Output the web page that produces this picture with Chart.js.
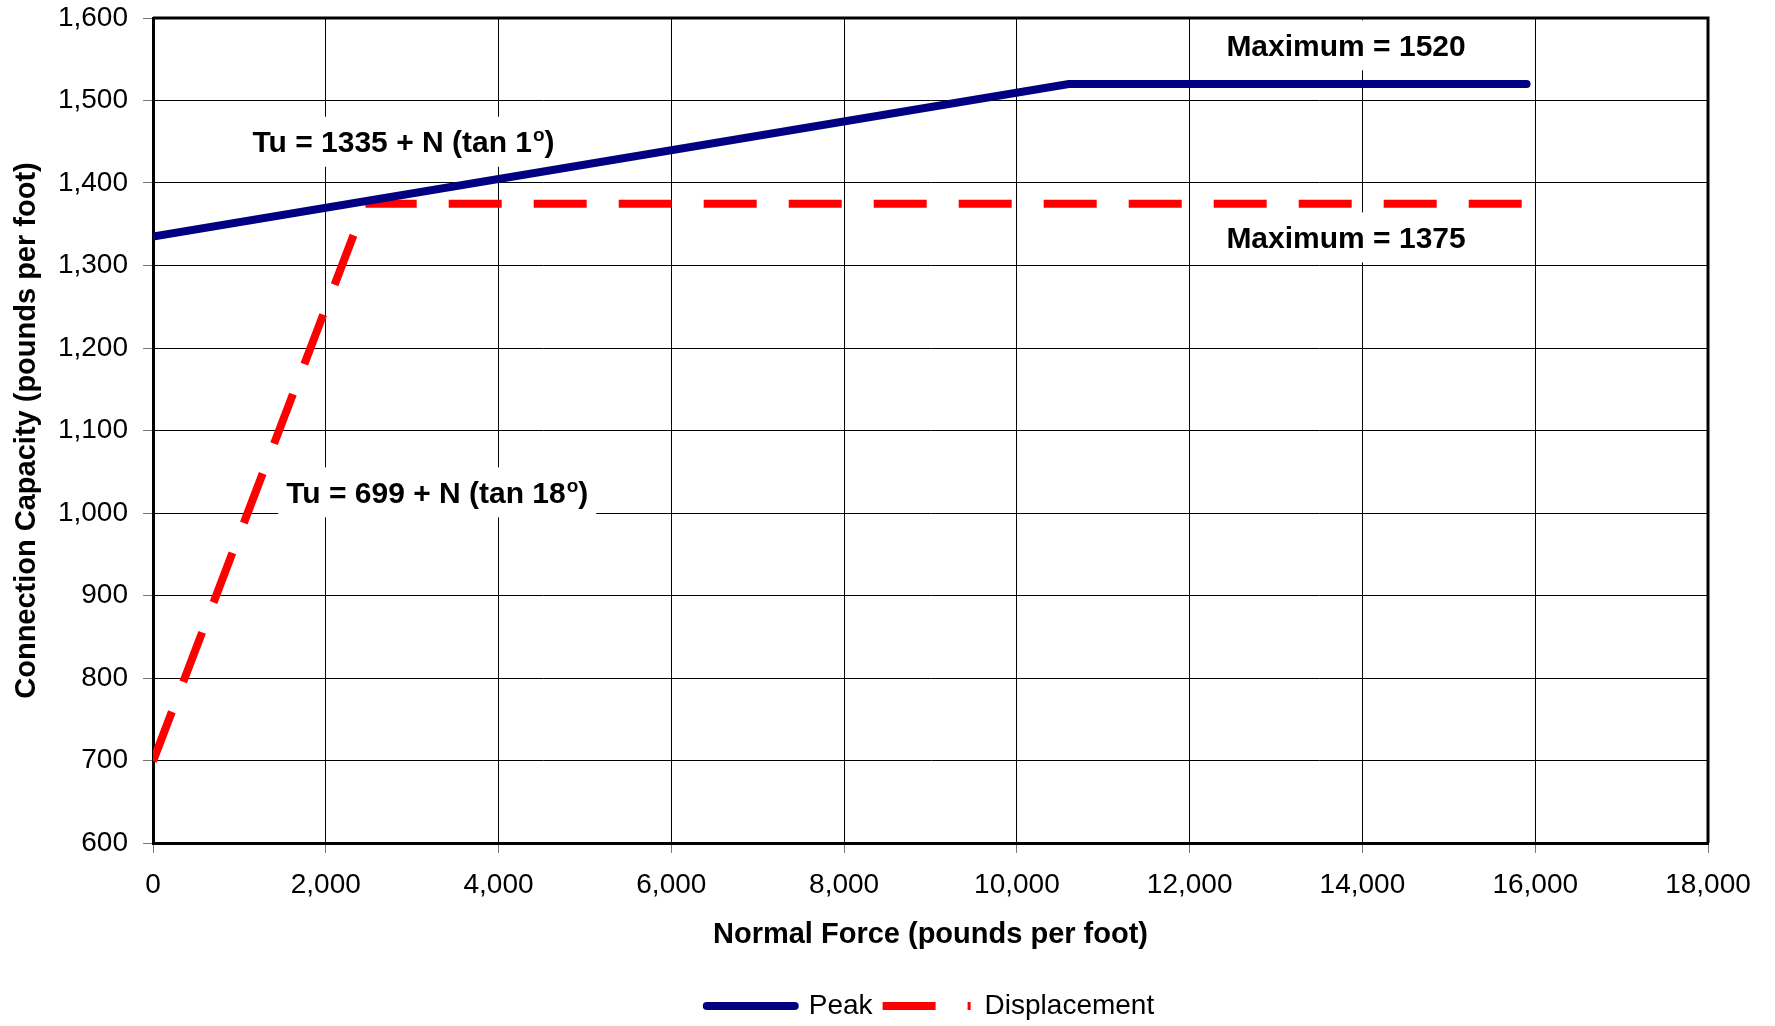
<!DOCTYPE html>
<html lang="en">
<head>
  <meta charset="UTF-8">
  <title>Connection Capacity vs Normal Force</title>
  <script src="https://cdn.jsdelivr.net/npm/chart.js"></script>
  <style>
    html, body {
      margin: 0;
      padding: 0;
      background: #fff;
    }
    #chart-container {
      width: 1775px;
      height: 1026px;
    }
  </style>
</head>
<body>
  <div id="chart-container">
    <canvas id="capacityChart"></canvas>
  </div>

  <script>
    // Peak and displacement capacity lines
    const peakX = [0, 10600, 15900];
    const peakY = [1335, 1520, 1520];
    const dispX = [0, 2460, 15900];
    const dispY = [699, 1375, 1375];

    const seriesNames = ['Peak', 'Displacement'];
    const xTicks = [0, 2000, 4000, 6000, 8000, 10000, 12000, 14000, 16000, 18000];
    const yTicks = [600, 700, 800, 900, 1000, 1100, 1200, 1300, 1400, 1500, 1600];

    // text notes on the plot, anchored in data units
    const notes = [
      { x: 2900, y: 1450, parts: ['Tu = 1335 + N (tan 1', 'o', ')'] },
      { x: 3290, y: 1025, parts: ['Tu = 699 + N (tan 18', 'o', ')'] },
      { x: 13810, y: 1567, parts: ['Maximum = 1520'] },
      { x: 13810, y: 1334, parts: ['Maximum = 1375'] }
    ];

    const FONT = '"Liberation Sans", Arial, sans-serif';

    const toPoints = (xs, ys) => xs.map((x, i) => ({ x: x, y: ys[i] }));

    // frame on top/right plus the white-boxed notes
    const notesPlugin = {
      id: 'notes',
      beforeDatasetsDraw(chart) {
        const ctx = chart.ctx;
        const a = chart.chartArea;
        const xs = chart.scales.x;
        const ys = chart.scales.y;
        ctx.save();
        ctx.strokeStyle = '#000';
        ctx.lineWidth = 3;
        ctx.beginPath();
        ctx.moveTo(a.left, a.top);
        ctx.lineTo(a.right, a.top);
        ctx.lineTo(a.right, a.bottom);
        ctx.stroke();

        notes.forEach(n => {
          const big = 'bold 30px ' + FONT;
          const small = 'bold 19px ' + FONT;
          ctx.font = big;
          let w = ctx.measureText(n.parts[0]).width;
          if (n.parts.length > 1) {
            ctx.font = small;
            w += ctx.measureText(n.parts[1]).width + 1;
            ctx.font = big;
            w += ctx.measureText(n.parts[2]).width;
          }
          const cx = xs.getPixelForValue(n.x);
          const cy = ys.getPixelForValue(n.y);
          ctx.fillStyle = '#fff';
          ctx.fillRect(cx - w / 2 - 8, cy - 25, w + 16, 50);
          ctx.fillStyle = '#000';
          ctx.textAlign = 'left';
          ctx.textBaseline = 'alphabetic';
          const base = cy + 10.5;
          let x = cx - w / 2;
          ctx.font = big;
          ctx.fillText(n.parts[0], x, base);
          x += ctx.measureText(n.parts[0]).width;
          if (n.parts.length > 1) {
            ctx.font = small;
            ctx.fillText(n.parts[1], x + 1, base - 11);
            x += ctx.measureText(n.parts[1]).width + 1;
            ctx.font = big;
            ctx.fillText(n.parts[2], x, base);
          }
        });
        ctx.restore();
      }
    };

    const ctx = document.getElementById('capacityChart').getContext('2d');

    new Chart(ctx, {
      type: 'line',
      data: {
        datasets: [{
          label: seriesNames[0],
          data: toPoints(peakX, peakY),
          borderColor: '#000080',
          backgroundColor: '#000080',
          borderWidth: 8,
          borderCapStyle: 'round',
          borderJoinStyle: 'miter',
          pointRadius: 0,
          tension: 0,
          fill: false
        }, {
          label: seriesNames[1],
          data: toPoints(dispX, dispY),
          borderColor: '#ff0000',
          backgroundColor: '#ff0000',
          borderWidth: 8,
          borderDash: [53, 32],
          borderCapStyle: 'butt',
          borderJoinStyle: 'miter',
          pointRadius: 0,
          tension: 0,
          fill: false
        }]
      },
      options: {
        responsive: true,
        maintainAspectRatio: false,
        animation: false,
        layout: {
          padding: { top: 18, right: 67, bottom: -4, left: 0 }
        },
        plugins: {
          tooltip: { enabled: false },
          legend: {
            position: 'bottom',
            fullSize: false,
            labels: {
              usePointStyle: true,
              pointStyle: 'line',
              pointStyleWidth: 88,
              padding: 10,
              color: '#000',
              font: { family: FONT, size: 28 },
              generateLabels: chart => {
                const items = Chart.defaults.plugins.legend.labels.generateLabels(chart);
                items.forEach(it => {
                  const ds = chart.data.datasets[it.datasetIndex];
                  it.lineDash = ds.borderDash || [];
                  it.lineCap = ds.borderCapStyle;
                  it.lineWidth = ds.borderWidth;
                  it.strokeStyle = ds.borderColor;
                });
                return items;
              }
            }
          }
        },
        scales: {
          x: {
            type: 'linear',
            min: xTicks[0],
            max: xTicks[xTicks.length - 1],
            afterBuildTicks: s => { s.ticks = xTicks.map(v => ({ value: v })); },
            afterFit: s => { s.height = 139; },
            grid: {
              color: '#000',
              lineWidth: 1,
              tickLength: 10,
              tickColor: '#777'
            },
            border: { display: true, color: '#000', width: 3 },
            ticks: {
              color: '#000',
              padding: 15,
              maxRotation: 0,
              font: { family: FONT, size: 28 },
              callback: v => v.toLocaleString('en-US')
            },
            title: {
              display: true,
              text: 'Normal Force (pounds per foot)',
              color: '#000',
              padding: { top: 0, bottom: 30 },
              font: { family: FONT, size: 29, weight: 'bold' }
            }
          },
          y: {
            type: 'linear',
            min: yTicks[0],
            max: yTicks[yTicks.length - 1],
            afterBuildTicks: s => { s.ticks = yTicks.map(v => ({ value: v })); },
            afterFit: s => {
              s.width = 153;
              s.paddingTop = 0;
              s.paddingBottom = 0;
            },
            grid: {
              color: '#000',
              lineWidth: 1,
              tickLength: 10,
              tickColor: '#777'
            },
            border: { display: true, color: '#000', width: 3 },
            ticks: {
              color: '#000',
              padding: 15,
              font: { family: FONT, size: 28 },
              callback: v => v.toLocaleString('en-US')
            },
            title: {
              display: true,
              text: 'Connection Capacity (pounds per foot)',
              color: '#000',
              padding: { top: 10, bottom: 0 },
              font: { family: FONT, size: 29, weight: 'bold' }
            }
          }
        }
      },
      plugins: [notesPlugin]
    });
  </script>
</body>
</html>
